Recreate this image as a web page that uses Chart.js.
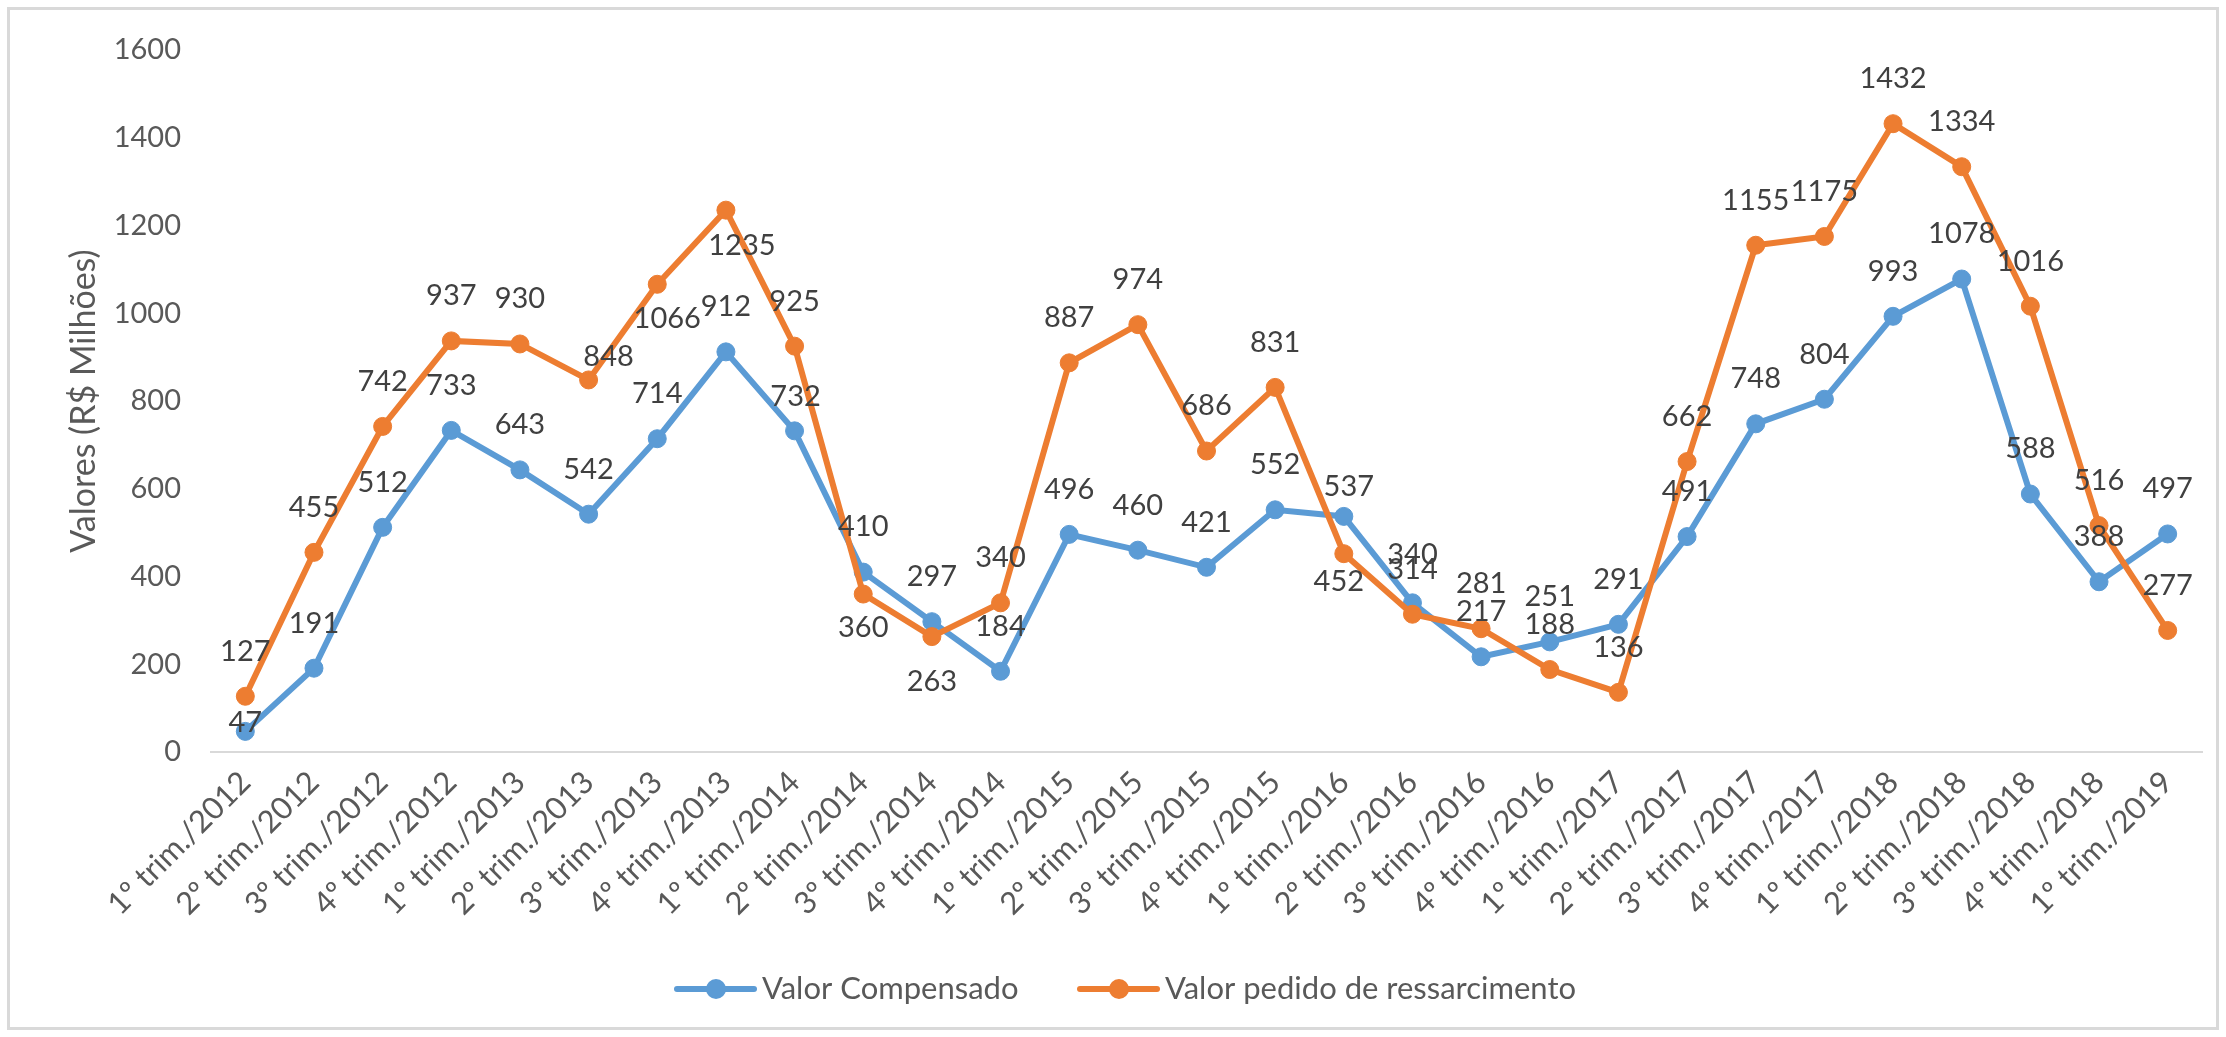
<!DOCTYPE html>
<html>
<head>
<meta charset="utf-8">
<script src="https://cdn.jsdelivr.net/npm/chart.js@4/dist/chart.umd.min.js"></script>
<style>
  html, body { margin: 0; padding: 0; background: #ffffff; overflow: hidden; }
  #wrap { position: absolute; left: 0; top: 0; width: 2226px; height: 1037px; }
</style>
</head>
<body>
<div id="wrap"><canvas id="c" width="2226" height="1037"></canvas></div>
<script>
// ---- data ----
const categories = [
  '1º trim./2012','2º trim./2012','3º trim./2012','4º trim./2012',
  '1º trim./2013','2º trim./2013','3º trim./2013','4º trim./2013',
  '1º trim./2014','2º trim./2014','3º trim./2014','4º trim./2014',
  '1º trim./2015','2º trim./2015','3º trim./2015','4º trim./2015',
  '1º trim./2016','2º trim./2016','3º trim./2016','4º trim./2016',
  '1º trim./2017','2º trim./2017','3º trim./2017','4º trim./2017',
  '1º trim./2018','2º trim./2018','3º trim./2018','4º trim./2018',
  '1º trim./2019'
];
const valorCompensado = [47,191,512,733,643,542,714,912,732,410,297,184,496,460,421,552,537,340,217,251,291,491,748,804,993,1078,588,388,497];
const valorPedido = [127,455,742,937,930,848,1066,1235,925,360,263,340,887,974,686,831,452,314,281,188,136,662,1155,1175,1432,1334,1016,516,277];
const seriesNames = ['Valor Compensado', 'Valor pedido de ressarcimento'];
const yTickValues = [0,200,400,600,800,1000,1200,1400,1600];
const yAxisTitle = 'Valores (R$ Milhões)';

// ---- styling ----
const BLUE = '#5B9BD5';
const ORANGE = '#ED7D31';
const FONT = 'Lato, "Open Sans", sans-serif';
const AXIS_TEXT = '#595959';
const LABEL_TEXT = '#404040';

// data label nudges (pixels from point), default above the marker
const labelDefault = [0, -45];
const labelNudges = [
  {0: [0, -9], 8: [1, -34], 16: [5, -30], 17: [0, -48]},
  {5: [20, -23], 6: [10, 34], 7: [16, 35], 9: [0, 34], 10: [0, 45], 16: [-5, 28]}
];

const frameAndLabels = {
  id: 'frameAndLabels',
  beforeDraw(chart) {
    const ctx = chart.ctx;
    ctx.save();
    ctx.fillStyle = '#ffffff';
    ctx.fillRect(0, 0, chart.width, chart.height);
    ctx.strokeStyle = '#D9D9D9';
    ctx.lineWidth = 3;
    ctx.strokeRect(8.5, 8.5, chart.width - 17, chart.height - 17);
    ctx.restore();
  },
  afterDatasetsDraw(chart) {
    const ctx = chart.ctx;
    ctx.save();
    ctx.font = '29px ' + FONT;
    ctx.fillStyle = LABEL_TEXT;
    ctx.textAlign = 'center';
    ctx.textBaseline = 'middle';
    chart.data.datasets.forEach((ds, di) => {
      const meta = chart.getDatasetMeta(di);
      meta.data.forEach((pt, i) => {
        const n = labelNudges[di][i] || labelDefault;
        ctx.fillText(String(ds.data[i]), pt.x + n[0], pt.y + n[1]);
      });
    });
    ctx.restore();
  },
  afterDraw(chart) {
    // legend
    const ctx = chart.ctx;
    ctx.save();
    const y = 989;
    const starts = [677, 1080];
    chart.data.datasets.forEach((ds, di) => {
      const x0 = starts[di];
      ctx.strokeStyle = ds.borderColor;
      ctx.lineWidth = 6;
      ctx.lineCap = 'round';
      ctx.beginPath();
      ctx.moveTo(x0, y);
      ctx.lineTo(x0 + 77, y);
      ctx.stroke();
      ctx.fillStyle = ds.borderColor;
      ctx.beginPath();
      ctx.arc(x0 + 39, y, 10, 0, Math.PI * 2);
      ctx.fill();
      ctx.fillStyle = AXIS_TEXT;
      ctx.font = '31px ' + FONT;
      ctx.textAlign = 'left';
      ctx.textBaseline = 'middle';
      ctx.fillText(ds.label, x0 + 85, y);
    });
    ctx.restore();
  }
};

function build() {
  const ctx = document.getElementById('c').getContext('2d');
  new Chart(ctx, {
    type: 'line',
    data: {
      labels: categories,
      datasets: [
        {
          label: seriesNames[0],
          data: valorCompensado,
          borderColor: BLUE,
          backgroundColor: BLUE,
          borderWidth: 6,
          pointRadius: 9,
          pointBorderWidth: 1,
          pointBackgroundColor: BLUE,
          pointBorderColor: BLUE,
          tension: 0,
          order: 1
        },
        {
          label: seriesNames[1],
          data: valorPedido,
          borderColor: ORANGE,
          backgroundColor: ORANGE,
          borderWidth: 6,
          pointRadius: 9,
          pointBorderWidth: 1,
          pointBackgroundColor: ORANGE,
          pointBorderColor: ORANGE,
          tension: 0,
          order: 0
        }
      ]
    },
    options: {
      responsive: false,
      animation: false,
      devicePixelRatio: 1,
      layout: { padding: { top: 50, right: 24, bottom: 0, left: 0 } },
      plugins: {
        legend: { display: false },
        tooltip: { enabled: false },
        title: { display: false }
      },
      scales: {
        x: {
          type: 'category',
          offset: true,
          grid: { display: false, drawTicks: false },
          border: { display: true, color: '#D9D9D9', width: 2 },
          ticks: {
            autoSkip: false,
            minRotation: 45,
            maxRotation: 45,
            padding: 12,
            color: AXIS_TEXT,
            font: { family: FONT, size: 31 }
          },
          afterFit(s) { s.height = 285; }
        },
        y: {
          min: 0,
          max: 1600,
          afterBuildTicks(s) { s.ticks = yTickValues.map(v => ({ value: v })); },
          grid: { display: false, drawTicks: false },
          border: { display: false },
          ticks: {
            padding: 30,
            color: AXIS_TEXT,
            font: { family: FONT, size: 29 },
            callback: (v) => String(v)
          },
          title: {
            display: true,
            text: yAxisTitle,
            color: AXIS_TEXT,
            font: { family: FONT, size: 34 },
            padding: { top: 64, bottom: 0 }
          },
          afterFit(s) { s.width = 211; }
        }
      }
    },
    plugins: [frameAndLabels]
  });
}

if (document.fonts && document.fonts.load) {
  Promise.all([document.fonts.load('29px Lato'), document.fonts.load('34px Lato')]).then(build, build);
} else {
  build();
}
</script>
</body>
</html>
